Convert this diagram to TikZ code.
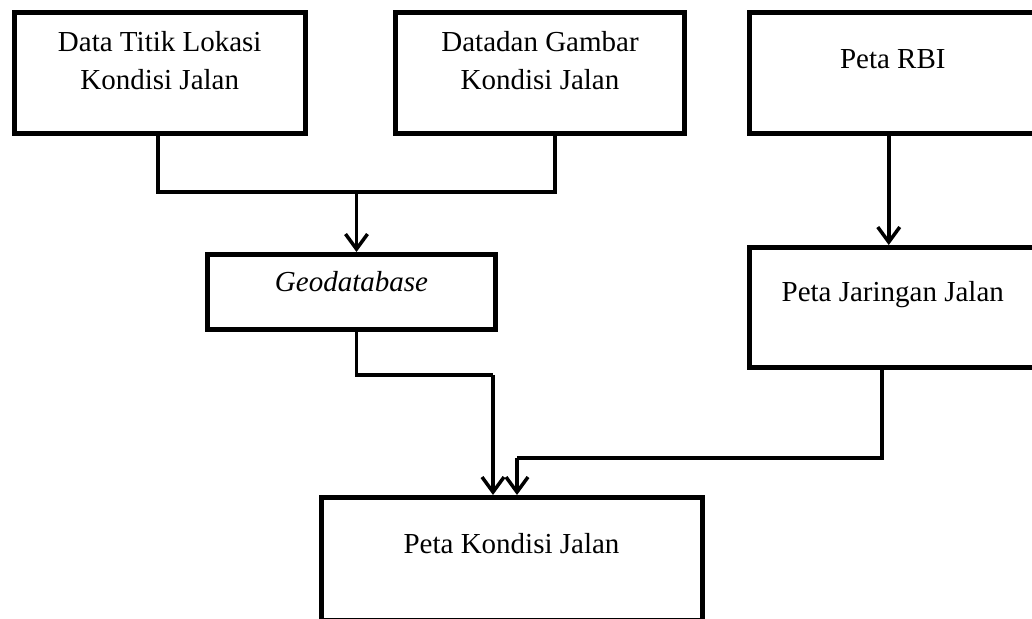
\documentclass[tikz,border=0pt]{standalone}
\usepackage{fontspec}
\setmainfont{Liberation Serif}
\usetikzlibrary{arrows.meta}

\begin{document}
\begin{tikzpicture}[x=1pt, y=-1pt,
box/.style={draw, line width=5pt, inner sep=0pt, %anchor=base,
    font=\fontsize{29}{38}\selectfont
    },
conn/.style={line width=3.5pt},
arr/.style={conn, -{Straight Barb[length=15pt, width=22pt]}}
]
\useasboundingbox (0,0) rectangle (1032,618);
\clip (0,0) rectangle (1032,618);

\node[box, minimum width=291.5pt, text height=39.5pt, text depth=81pt] (titik) at (159.75,72.75)
    {\begin{tabular}[t]{@{}c@{}}Data Titik Lokasi\\Kondisi Jalan\end{tabular}};
\node[box, minimum width=289pt, text height=39.5pt, text depth=81pt] (gambar) at (540,72.75)
    {\begin{tabular}[t]{@{}c@{}}Datadan Gambar\\Kondisi Jalan\end{tabular}};
\node[box, minimum width=286.5pt, text height=55.5pt, text depth=65pt] (rbi) at (892.75,72.75) {Peta RBI};
\node[box, minimum width=288pt, text height=37.2pt, text depth=37.8pt] (geo) at (351.5,292) {\textit{Geodatabase}};
\node[box, minimum width=286.5pt, text height=54.2pt, text depth=65.8pt] (jaringan) at (892.75,307.5) {Peta Jaringan Jalan};
\node[box, minimum width=381pt, text height=55.5pt, text depth=67pt] (kondisi) at (511.5,558.75) {Peta Kondisi Jalan};

\coordinate (j1) at (356.5,192);
\coordinate (j2) at (493,375);
\coordinate (j3) at (517,458);

\draw[conn] ([xshift=-2pt]titik.south) |- (j1) -| ([xshift=15pt]gambar.south);
\draw[arr] (j1) -- (j1 |- geo.north);
\draw[arr] ([xshift=-4pt]rbi.south) -- ([xshift=-4pt]jaringan.north);
\draw[conn] (geo.south -| j1) |- (j2);
\draw[conn] ([xshift=-10.75pt]jaringan.south) |- (j3);
\foreach \j in {j2, j3}
    \draw[arr] (\j) -- (\j |- kondisi.north);

\end{tikzpicture}
\end{document}
